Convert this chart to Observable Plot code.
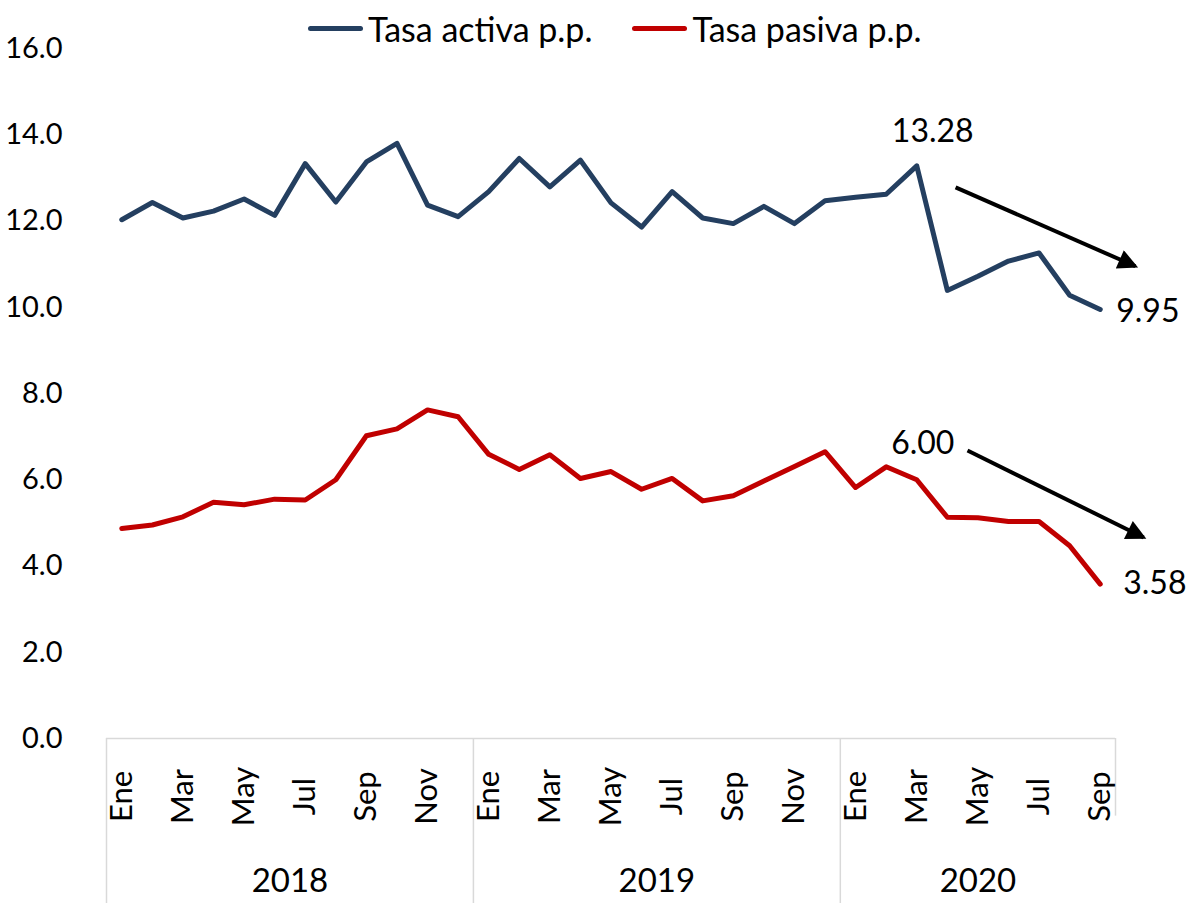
<!DOCTYPE html>
<html>
<head>
<meta charset="utf-8">
<script src="https://cdn.jsdelivr.net/npm/d3@7"></script>
<script src="https://cdn.jsdelivr.net/npm/@observablehq/plot@0.6"></script>
<style>
  html, body { margin: 0; padding: 0; background: #fff; }
  #wrap { position: relative; width: 1193px; height: 903px; font-family: Lato, "Open Sans", sans-serif; }
  #legend { position: absolute; left: 308px; top: 8px; display: flex; align-items: center; font-size: 34px; color: #000; white-space: nowrap; }
  .sw { display: inline-block; width: 55px; height: 5px; border-radius: 3px; margin-right: 5px; }
  .item { display: flex; align-items: center; margin-right: 40px; }
</style>
</head>
<body>
<div id="wrap">
  <div id="chart"></div>
  <div id="legend"></div>
</div>
<script>
// ---- data ----
const months = ["Ene","Feb","Mar","Abr","May","Jun","Jul","Ago","Sep","Oct","Nov","Dic"];
const years = ["2018","2019","2020"];
const yearMonths = [12, 12, 9];
const seriesNames = ["Tasa activa p.p.", "Tasa pasiva p.p."];
const seriesColors = ["#243f60", "#c00000"];
const activa = [12.03,12.43,12.07,12.23,12.51,12.13,13.33,12.44,13.37,13.80,12.37,12.10,
                12.68,13.45,12.79,13.41,12.42,11.86,12.68,12.07,11.94,12.34,11.94,12.47,
                12.55,12.62,13.28,10.39,10.72,11.07,11.26,10.28,9.95];
const pasiva = [4.87,4.95,5.14,5.48,5.42,5.55,5.53,6.00,7.02,7.18,7.62,7.46,
                6.59,6.24,6.58,6.03,6.19,5.78,6.03,5.51,5.63,5.97,6.31,6.65,
                5.82,6.30,6.00,5.13,5.12,5.03,5.03,4.47,3.58];
const yTicks = [0,2,4,6,8,10,12,14,16];
// annotations: point index, value shown
const labels = [
  {i: 26, v: 13.28, text: "13.28", dx: 16, dy: -34, anchor: "middle"},
  {i: 32, v: 9.95,  text: "9.95",  dx: 16, dy: 2,   anchor: "start"},
  {i: 26, v: 6.00,  text: "6.00",  dx: 6,  dy: -36, anchor: "middle"},
  {i: 32, v: 3.58,  text: "3.58",  dx: 23, dy: 0,   anchor: "start"}
];
const arrows = [
  {x1: 27.27, y1: 12.78, x2: 33.15, y2: 10.95},
  {x1: 27.66, y1: 6.68,  x2: 33.42, y2: 4.66}
];

// ---- derived tables ----
const rows = [];
activa.forEach((v, i) => rows.push({i, v, s: seriesNames[0]}));
pasiva.forEach((v, i) => rows.push({i, v, s: seriesNames[1]}));
const n = activa.length;
const starts = []; let acc = 0;
yearMonths.forEach(m => { starts.push(acc); acc += m; });
const yearRows = years.map((y, k) => ({year: y, c: starts[k] + (yearMonths[k] - 1) / 2}));
const seps = starts.map(s => s - 0.5);
const monthTicks = d3.range(n).filter(i => (i % 12) % 2 === 0);

const plot = Plot.plot({
  width: 1193, height: 903,
  marginTop: 48, marginBottom: 165, marginLeft: 106, marginRight: 78,
  x: {type: "linear", domain: [-0.5, n - 0.5], axis: null},
  y: {domain: [0, 16], axis: null},
  color: {domain: seriesNames, range: seriesColors},
  style: {fontFamily: "Lato, 'Open Sans', sans-serif", color: "#000", overflow: "visible", background: "#fff"},
  marks: [
    Plot.ruleY([0], {x1: -0.5, x2: n - 0.5, stroke: "#d9d9d9", strokeWidth: 1.5}),
    Plot.ruleX(seps, {y1: 0, y2: -3.95, stroke: "#d9d9d9", strokeWidth: 1.5}),
    Plot.ruleX([n - 0.5], {y1: 0, y2: -1.8, stroke: "#d9d9d9", strokeWidth: 1.5}),
    Plot.axisY({ticks: yTicks, tickFormat: d => d.toFixed(1), tickSize: 0, tickPadding: 44, fontSize: 29, label: null, fill: "#000"}),
    Plot.text(monthTicks, {x: d => d, text: d => months[d % 12], frameAnchor: "bottom", rotate: -90,
      textAnchor: "middle", lineAnchor: "middle", dy: 58, fontSize: 31, fill: "#000"}),
    Plot.text(yearRows, {x: "c", text: "year", frameAnchor: "bottom", dy: 153, fontSize: 33, fill: "#000"}),
    Plot.line(rows, {x: "i", y: "v", z: "s", stroke: "s", strokeWidth: 5, strokeLinejoin: "round", strokeLinecap: "round"}),
    ...labels.map(l => Plot.text([l], {x: "i", y: "v", text: "text", dx: l.dx, dy: l.dy, textAnchor: l.anchor, fontSize: 32, fill: "#000"})),
    Plot.link(arrows, {x1: "x1", y1: "y1", x2: "x2", y2: "y2", stroke: "#000", strokeWidth: 4})
  ]
});
document.getElementById("chart").appendChild(plot);

// filled arrowheads
const svgNS = "http://www.w3.org/2000/svg";
const defs = document.createElementNS(svgNS, "defs");
const marker = document.createElementNS(svgNS, "marker");
marker.setAttribute("id", "ahead");
marker.setAttribute("viewBox", "0 0 10 10");
marker.setAttribute("refX", "8.5");
marker.setAttribute("refY", "5");
marker.setAttribute("markerUnits", "userSpaceOnUse");
marker.setAttribute("markerWidth", "24");
marker.setAttribute("markerHeight", "20");
marker.setAttribute("orient", "auto");
const mp = document.createElementNS(svgNS, "path");
mp.setAttribute("d", "M0,0L10,5L0,10z");
mp.setAttribute("fill", "#000");
marker.appendChild(mp);
defs.appendChild(marker);
plot.insertBefore(defs, plot.firstChild);
plot.querySelectorAll('g[aria-label="link"] path').forEach(p => p.setAttribute("marker-end", "url(#ahead)"));

// legend
const lg = document.getElementById("legend");
seriesNames.forEach((s, k) => {
  const it = document.createElement("div");
  it.className = "item";
  const sw = document.createElement("span");
  sw.className = "sw";
  sw.style.background = seriesColors[k];
  const tx = document.createElement("span");
  tx.textContent = s;
  it.appendChild(sw); it.appendChild(tx);
  lg.appendChild(it);
});
</script>
</body>
</html>
